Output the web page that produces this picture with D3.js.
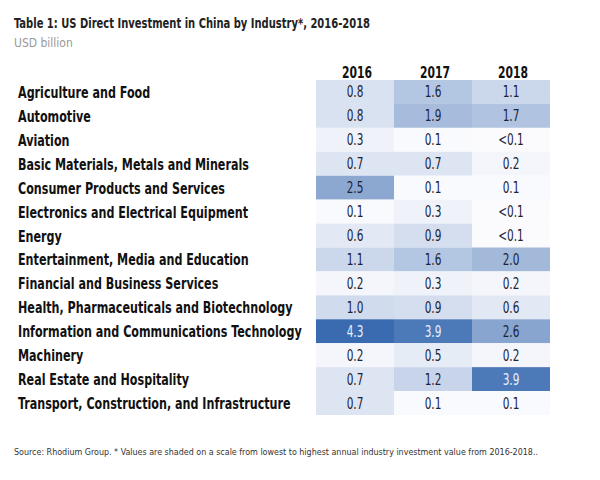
<!DOCTYPE html>
<html><head><meta charset="utf-8">
<script src="https://cdn.jsdelivr.net/npm/d3@7"></script>
<style>
body{margin:0;background:#fff;}
text{font-family:"DejaVu Sans Condensed","DejaVu Sans",sans-serif;}
</style></head>
<body><svg id="c" width="600" height="480"></svg>
<script>
const industries = ["Agriculture and Food","Automotive","Aviation","Basic Materials, Metals and Minerals","Consumer Products and Services","Electronics and Electrical Equipment","Energy","Entertainment, Media and Education","Financial and Business Services","Health, Pharmaceuticals and Biotechnology","Information and Communications Technology","Machinery","Real Estate and Hospitality","Transport, Construction, and Infrastructure"];
const years = ["2016","2017","2018"];
const v2016 = [0.8,0.8,0.3,0.7,2.5,0.1,0.6,1.1,0.2,1.0,4.3,0.2,0.7,0.7];
const v2017 = [1.6,1.9,0.1,0.7,0.1,0.3,0.9,1.6,0.3,0.9,3.9,0.5,1.2,0.1];
const v2018 = [1.1,1.7,0.05,0.2,0.1,0.05,0.05,2.0,0.2,0.6,2.6,0.2,3.9,0.1];
const l2016 = ["0.8","0.8","0.3","0.7","2.5","0.1","0.6","1.1","0.2","1.0","4.3","0.2","0.7","0.7"];
const l2017 = ["1.6","1.9","0.1","0.7","0.1","0.3","0.9","1.6","0.3","0.9","3.9","0.5","1.2","0.1"];
const l2018 = ["1.1","1.7","<0.1","0.2","0.1","<0.1","<0.1","2.0","0.2","0.6","2.6","0.2","3.9","0.1"];

const vals = [v2016,v2017,v2018], labs=[l2016,l2017,l2018];
const svg = d3.select("#c");
const x = d3.scaleBand().domain(years).range([316,550]);
const y = d3.scaleBand().domain(industries).range([80,415]);
const color = d3.scaleLinear().domain([0,4.3]).range(["#fdfdff","#3a6bb0"]);

svg.append("text").attr("x",14).attr("y",28).attr("font-size",13.5).attr("font-weight","bold").attr("fill","#222")
  .text("Table 1: US Direct Investment in China by Industry*, 2016-2018")
  .attr("textLength",356).attr("lengthAdjust","spacingAndGlyphs");
svg.append("text").attr("x",14).attr("y",47).attr("font-size",12).attr("fill","#999")
  .text("USD billion");

svg.selectAll(".yr").data(years).enter().append("text")
  .attr("transform",d=>`translate(${x(d)+x.bandwidth()/2+2},78) scale(0.75,1)`).attr("text-anchor","middle")
  .attr("font-size",16).attr("font-weight","bold").attr("fill","#111").text(d=>d);

const labels = svg.selectAll(".lab").data(industries).enter().append("text")
  .attr("font-size",16.5).attr("font-weight","bold").attr("fill","#111").text(d=>d);
let maxW=0; labels.each(function(){maxW=Math.max(maxW,this.getComputedTextLength());});
const lf = 284/maxW;
labels.attr("transform",d=>`translate(18,${y(d)+y.bandwidth()/2+6}) scale(${lf},1)`);

const cells=[];
years.forEach((yr,j)=>industries.forEach((ind,i)=>cells.push({yr,ind,v:vals[j][i],l:labs[j][i]})));
svg.selectAll(".cell").data(cells).enter().append("rect")
  .attr("x",d=>x(d.yr)).attr("y",d=>y(d.ind)).attr("width",x.bandwidth()).attr("height",y.bandwidth())
  .attr("fill",d=>color(d.v));
svg.selectAll(".val").data(cells).enter().append("text")
  .attr("transform",d=>`translate(${x(d.yr)+x.bandwidth()/2},${y(d.ind)+y.bandwidth()/2+5.5}) scale(0.78,1)`)
  .attr("text-anchor","middle").attr("font-size",15)
  .attr("fill",d=>d.v>3?"#e8f0ff":"#1b2436").text(d=>d.l);

svg.append("text").attr("x",14).attr("y",455).attr("font-size",9).attr("fill","#333")
  .text("Source: Rhodium Group. * Values are shaded on a scale from lowest to highest annual industry investment value from 2016-2018..")
  .attr("textLength",524).attr("lengthAdjust","spacingAndGlyphs");
</script></body></html>
